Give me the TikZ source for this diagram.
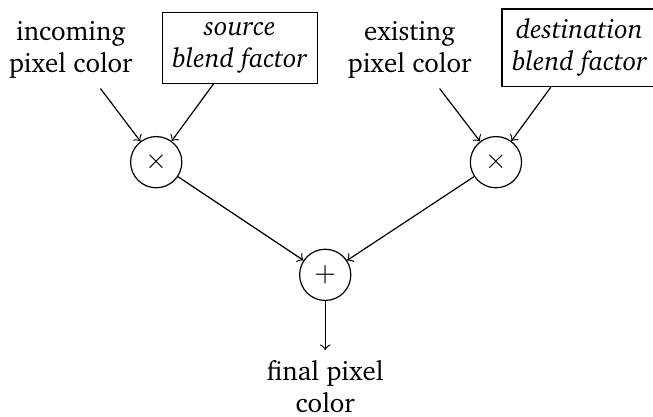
\documentclass[tikz,border=0pt]{standalone}
\usepackage[T1]{fontenc}
\usepackage{charter}
\newcommand{\picfont}{\fontsize{9pt}{10.7pt}\selectfont}
\tikzset{
  every node/.style={font=\picfont},
  op/.style={draw, circle, minimum size=0.6cm, inner sep=0pt},
  factor/.style={draw, align=center, font=\picfont\itshape},
  label/.style={align=center}
}
\begin{document}
\begin{tikzpicture}
        \useasboundingbox (0,0) rectangle (7.65,-4.885);
        \node[label] (incoming) at (0.83,-0.58) {incoming\\pixel color};
        \node[factor] (srcfac) at (2.81,-0.56) {source\\blend factor};
        \node[label] (existing) at (4.80,-0.58) {existing\\pixel color};
        \node[factor] (dstfac) at (6.79,-0.56) {destination\\blend factor};
        \node[op] (mulsrc) at (1.83,-1.90) {$\times$};
        \node[op] (muldst) at (5.81,-1.90) {$\times$};
        \node[op] (add) at (3.81,-3.22) {$+$};
        \node[label, anchor=north] (final) at (3.81,-4.10) {final pixel\\color};
        \draw[->] (incoming) -- (mulsrc);
        \draw[->] (srcfac) -- (mulsrc);
        \draw[->] (existing) -- (muldst);
        \draw[->] (dstfac) -- (muldst);
        \draw[->] (mulsrc) -- (add);
        \draw[->] (muldst) -- (add);
        \draw[->] (add) -- (final);
      \end{tikzpicture}
\end{document}
